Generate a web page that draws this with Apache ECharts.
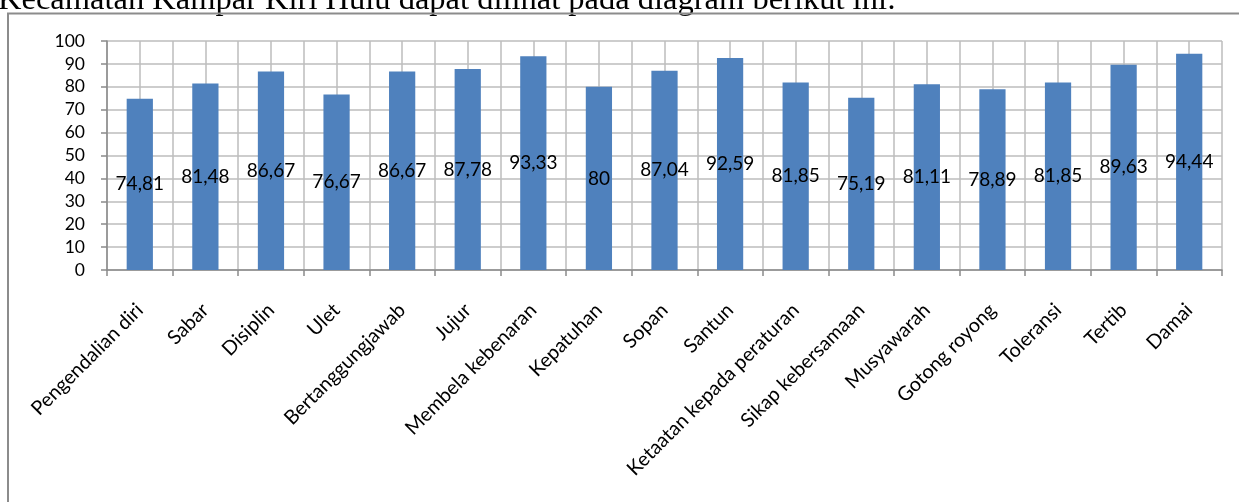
<!DOCTYPE html>
<html>
<head>
<meta charset="utf-8">
<script src="https://cdn.jsdelivr.net/npm/echarts@6/dist/echarts.min.js"></script>
<style>
html,body{margin:0;padding:0;background:#fff;}
#chart{width:1239px;height:502px;}
</style>
</head>
<body>
<div id="chart"></div>
<script>
const categories = ["Pengendalian diri","Sabar","Disiplin","Ulet","Bertanggungjawab","Jujur","Membela kebenaran","Kepatuhan","Sopan","Santun","Ketaatan kepada peraturan","Sikap kebersamaan","Musyawarah","Gotong royong","Toleransi","Tertib","Damai"];
const values = [74.81,81.48,86.67,76.67,86.67,87.78,93.33,80,87.04,92.59,81.85,75.19,81.11,78.89,81.85,89.63,94.44];
const yTicks = [0,10,20,30,40,50,60,70,80,90,100];
const introText = "Kecamatan Kampar Kiri Hulu dapat dilihat pada diagram berikut ini:";

const gridColor = '#BDBDBD';
const axisColor = '#8A8A8A';
const font = 'Lato, "Open Sans", sans-serif';

const chart = echarts.init(document.getElementById('chart'), null, {renderer:'canvas'});
chart.setOption({
  animation:false,
  backgroundColor:'#fff',
  graphic:[
    {type:'text', left:-2, top:-16, style:{text:introText, font:'32.5px "Liberation Serif", "Times New Roman", serif', fill:'#000'}, z:0},
    {type:'rect', shape:{x:8, y:13.5, width:1240, height:500}, style:{fill:'none', stroke:'#8C8C8C', lineWidth:2}, z:0}
  ],
  grid:{left:107, right:17, top:41, bottom:232, containLabel:false},
  xAxis:[{
    type:'category', data:categories,
    axisLine:{show:true, lineStyle:{color:axisColor, width:1.5}},
    axisTick:{show:true, length:6, lineStyle:{color:axisColor, width:1.5}},
    axisLabel:{rotate:45, margin:37, fontFamily:font, fontSize:19.8, color:'#000', interval:0},
    splitLine:{show:false}
  },{
    type:'value', min:0, max:17, interval:0.5, position:'bottom',
    axisLine:{show:false}, axisTick:{show:false}, axisLabel:{show:false},
    splitLine:{show:true, lineStyle:{color:gridColor, width:1.5}}
  }],
  yAxis:{
    type:'value', min:0, max:100, interval:10,
    axisLine:{show:true, lineStyle:{color:axisColor, width:1.5}},
    axisTick:{show:true, length:6, lineStyle:{color:axisColor, width:1.5}},
    axisLabel:{fontFamily:font, fontSize:17.5, color:'#000', margin:22,
      formatter:v=>yTicks.includes(v)?String(v):''},
    splitLine:{show:true, lineStyle:{color:gridColor, width:1.5}}
  },
  series:[{
    type:'bar', xAxisIndex:0, data:values, barWidth:'40%',
    itemStyle:{color:'#4F81BD'},
    label:{show:true, position:'inside', color:'#000', fontFamily:font, fontSize:19,
      formatter:p=>String(p.value).replace('.',',')}
  }]
});
</script>
</body>
</html>
